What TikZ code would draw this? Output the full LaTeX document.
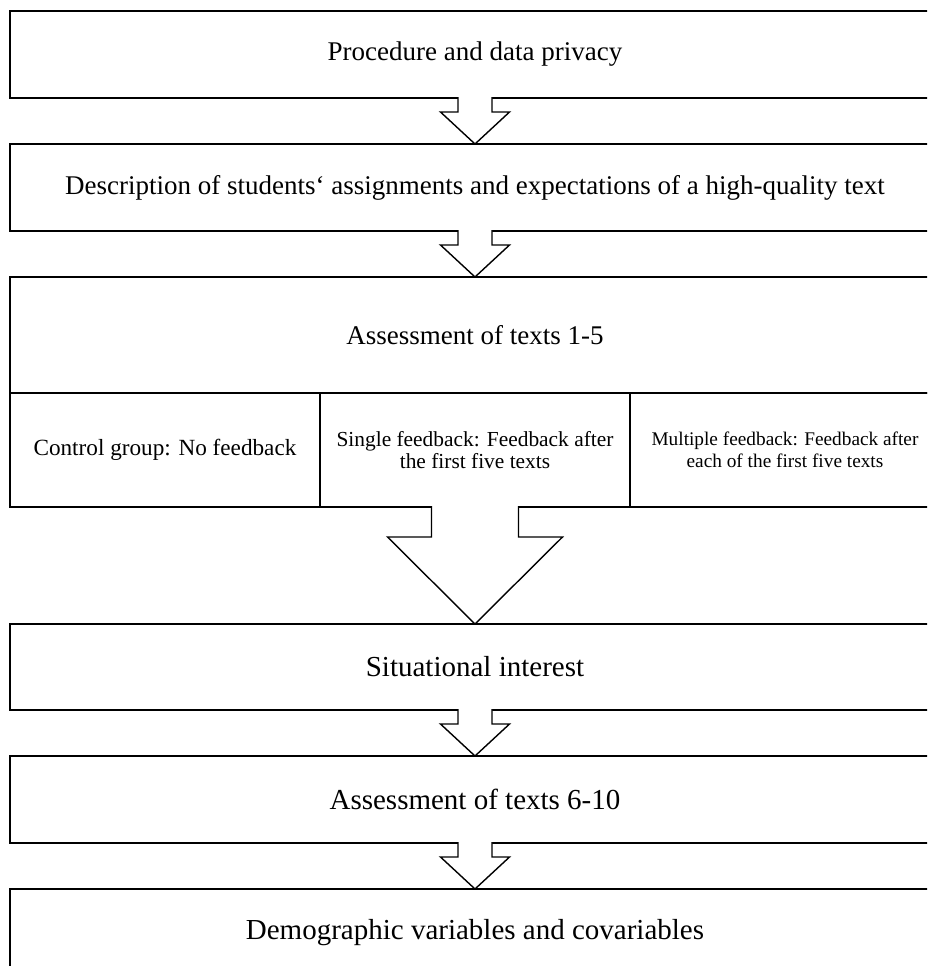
\documentclass[tikz,border=0pt]{standalone}
\usepackage{fontspec}
\setmainfont{Liberation Serif}
\usetikzlibrary{calc}
\newcommand{\blkarrow}[5]{%
  \draw[barrow] ($(#1.south)+(-#3,-1)$) -- ($(#1.south)+(-#3,#5)$) -- ($(#1.south)+(-#4,#5)$) -- (#2.north)
     -- ($(#1.south)+(#4,#5)$) -- ($(#1.south)+(#3,#5)$) -- ($(#1.south)+(#3,-1)$);}
\begin{document}
\begin{tikzpicture}[x=1pt,y=-1pt,
  box/.style={draw, line width=1.6pt, minimum width=930pt, inner sep=0pt, outer sep=0pt, align=center},
  cell/.style={draw, line width=1.6pt, minimum width=310pt, minimum height=114pt, inner sep=0pt, outer sep=0pt, align=center},
  barrow/.style={draw, fill=white, line width=1.4pt, line join=miter},
  big/.style={font=\fontsize{27}{32}\selectfont},
  bigger/.style={font=\fontsize{29}{34}\selectfont}]
\useasboundingbox (0,0) rectangle (927,966);
\clip (0,0) rectangle (927,966);
\node[box, big, minimum height=87pt] (b1) at (475,54.5) {Procedure and data privacy};
\node[box, big, minimum height=87pt] (b2) at (475,187.5) {Description of students‘ assignments and expectations of a high-quality text};
\node[box, big, minimum height=116pt] (b3) at (475,335) {Assessment of texts 1-5};
\node[cell, font=\fontsize{23.2}{26}\selectfont] (c1) at (165,450) {Control group: No feedback};
\node[cell, font=\fontsize{21.4}{21.7}\selectfont] (c2) at (475,450) {Single feedback: Feedback after\\the first five texts};
\node[cell, font=\fontsize{19.3}{22}\selectfont] (c3) at (785,450) {Multiple feedback: Feedback after\\each of the first five texts};
\node[box, bigger, minimum height=86pt] (b4) at (475,667) {Situational interest};
\node[box, bigger, minimum height=87pt] (b5) at (475,799.5) {Assessment of texts 6-10};
\node[box, bigger, minimum height=87pt] (b6) at (475,932.5) {Demographic variables and covariables};
\blkarrow{b1}{b2}{17}{34.5}{14}
\blkarrow{b2}{b3}{17}{34.5}{14}
\blkarrow{c2}{b4}{43.5}{87.5}{30}
\blkarrow{b4}{b5}{17}{34.5}{14}
\blkarrow{b5}{b6}{17}{34.5}{14}
\end{tikzpicture}
\end{document}
